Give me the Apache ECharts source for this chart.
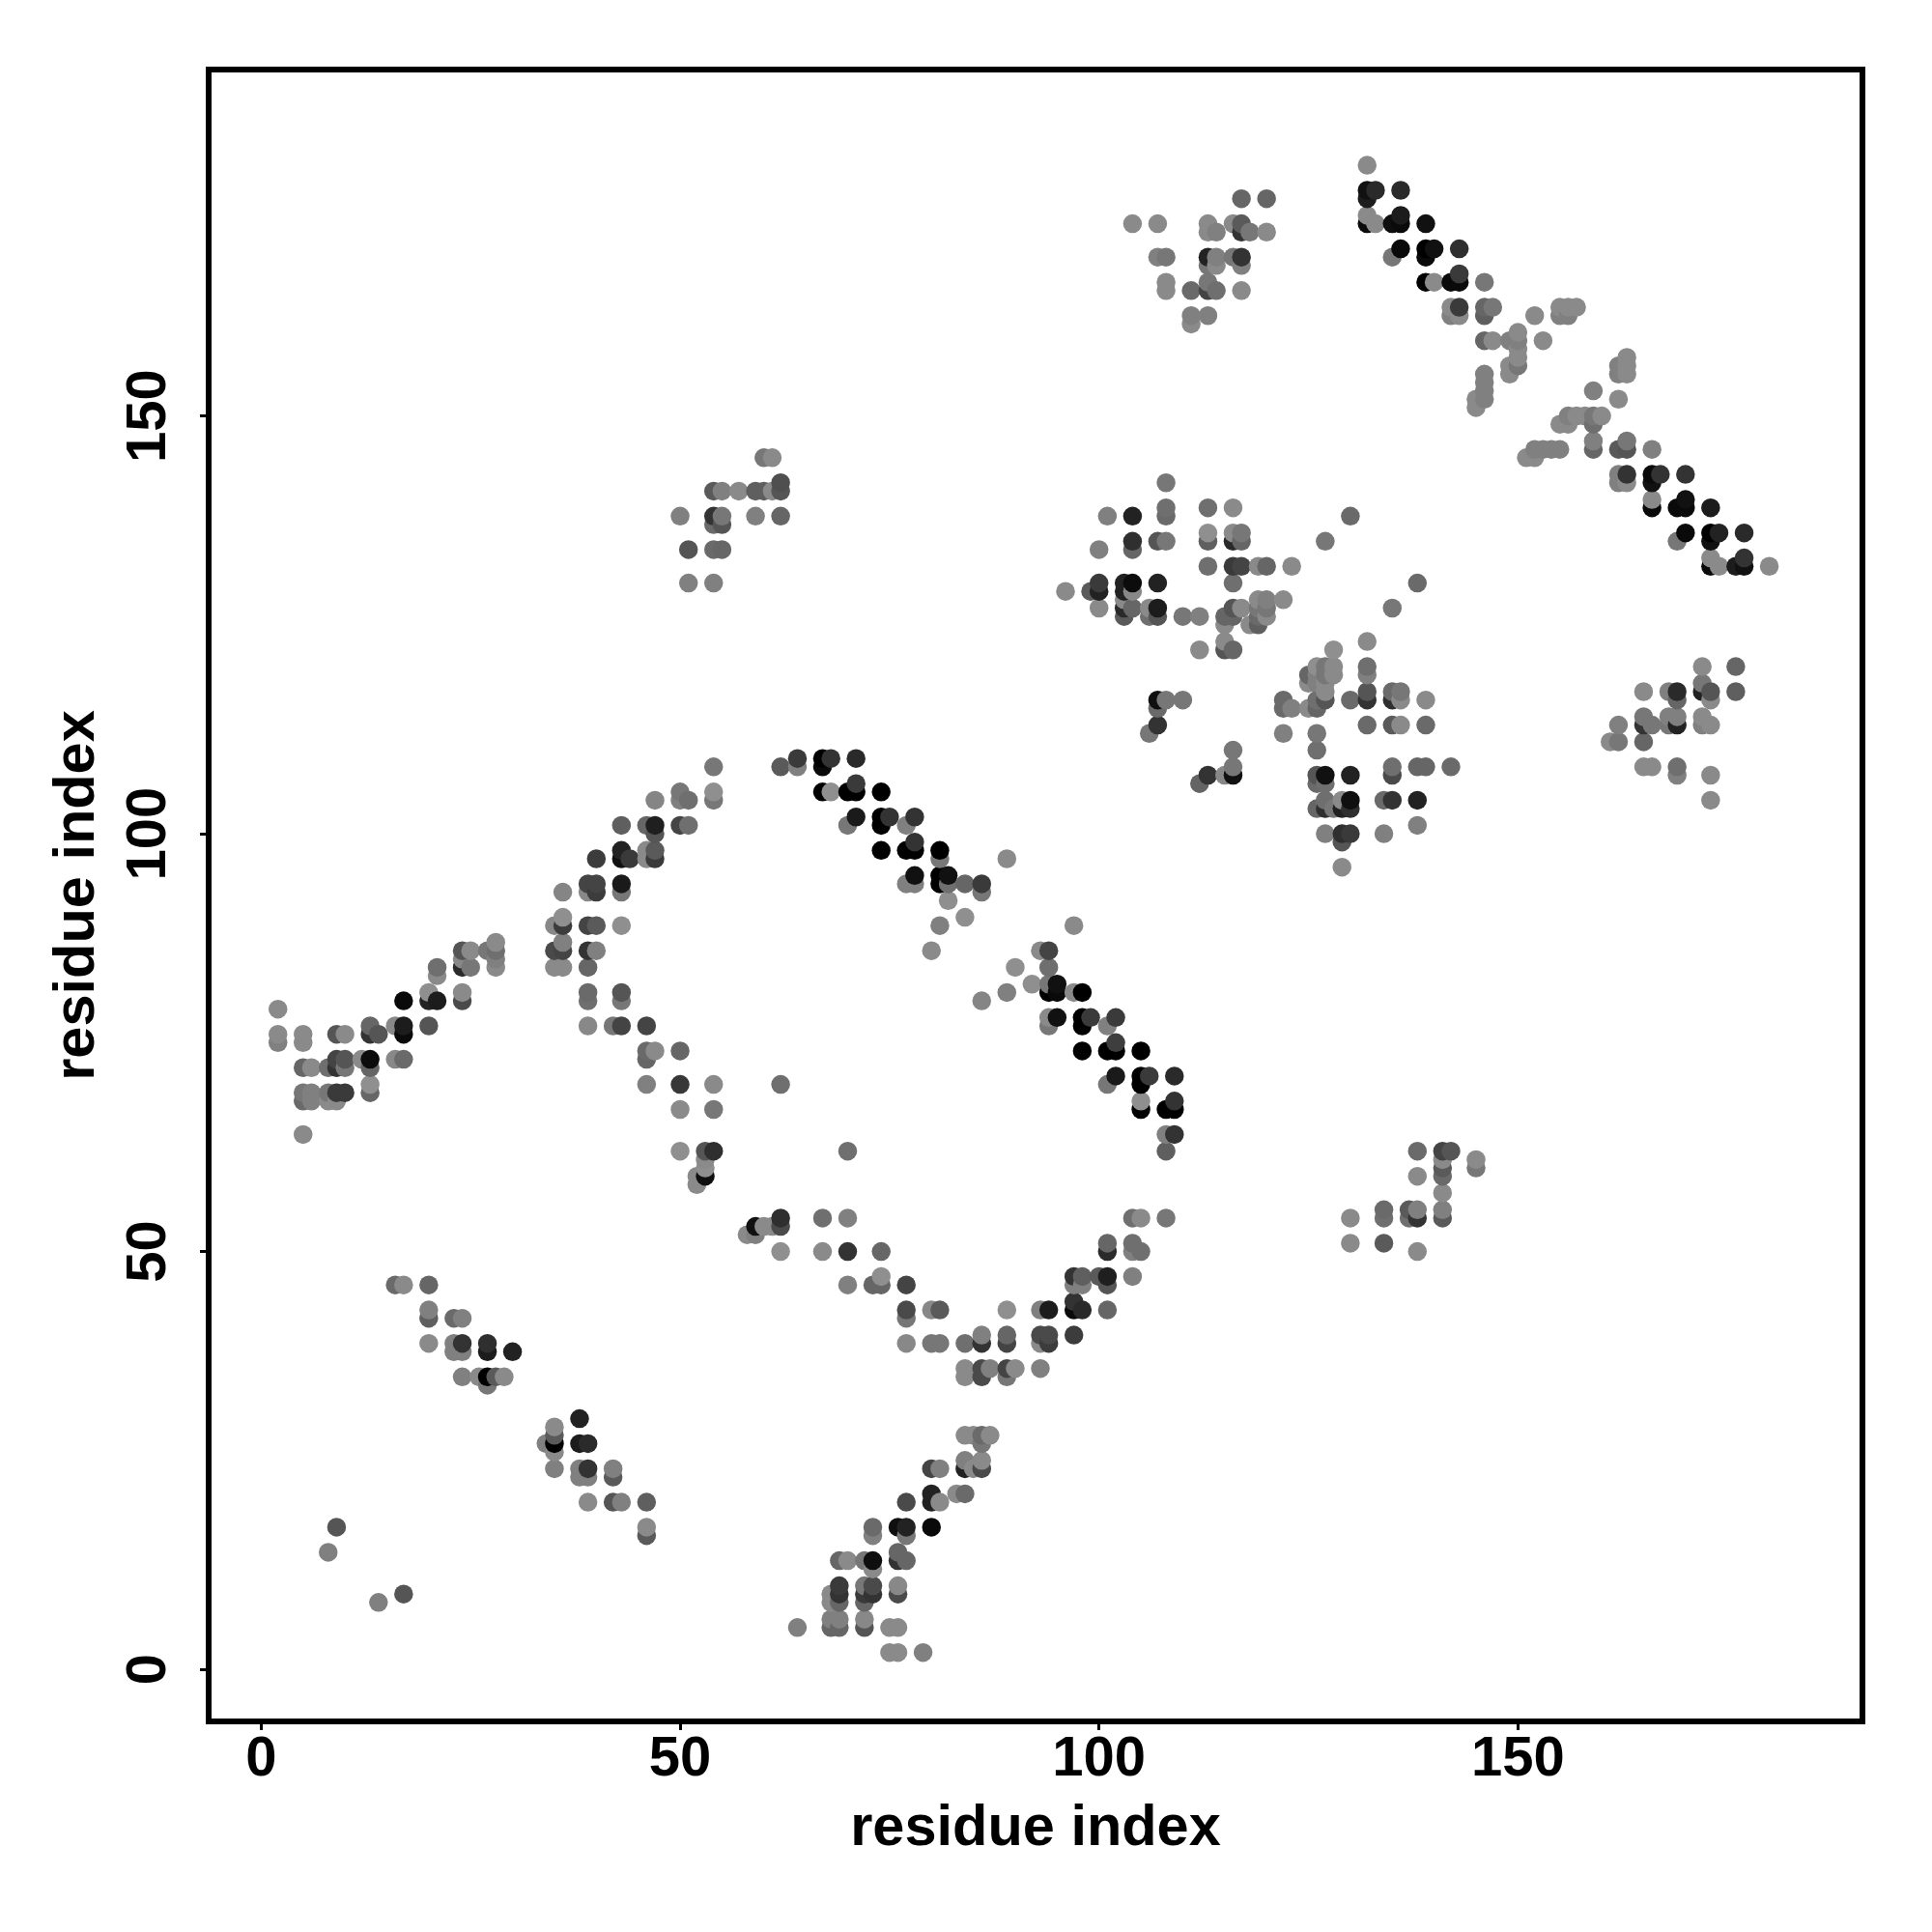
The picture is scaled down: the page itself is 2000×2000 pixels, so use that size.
<!DOCTYPE html>
<html>
<head>
<meta charset="utf-8">
<script src="https://cdn.jsdelivr.net/npm/echarts@6/dist/echarts.min.js"></script>
<style>html,body{margin:0;padding:0;background:#fff}#c{width:2000px;height:2000px}</style>
</head>
<body>
<div id="c"></div>
<script>
// Each contact is [residue x, residue y, grey level]
const ridgeLowerLeft = [[2,79,138],[2,76,138],[2,75,128],[5,76,138],[5,75,138],[5,72,102],[6,72,138],[5,69,119],[5,68,106],[6,69,128],[6,68,128],[5,64,138],[8,72,111],[9,73,68],[9,72,51],[10,73,85],[10,72,119],[8,69,119],[8,68,138],[9,68,138],[9,69,58],[10,69,58],[9,76,85],[10,76,138],[12,73,138],[13,73,12],[13,72,102],[13,70,143],[13,69,102],[13,77,102],[13,76,51],[14,76,85],[16,77,136],[17,77,28],[17,76,10],[16,73,136],[17,73,106],[17,80,10],[20,77,85],[20,81,143],[20,80,34],[21,80,28],[21,84,111],[21,83,138],[24,81,138],[24,80,74],[24,86,85],[25,86,138],[24,84,42],[25,84,119],[24,85,136],[27,86,119],[28,87,138],[28,86,111],[28,85,128],[28,84,138]];
const ridgeMidLeft = [[35,89,136],[36,90,143],[36,89,60],[35,86,74],[36,87,128],[36,86,68],[35,84,138],[36,84,138],[36,93,133],[39,94,68],[39,93,136],[40,94,68],[40,93,60],[43,94,26],[43,93,119],[39,89,68],[40,89,90],[43,89,143],[39,86,51],[40,86,128],[39,84,102],[39,81,106],[39,80,111],[43,81,85],[43,80,119],[39,77,136],[42,77,119],[43,77,68],[46,77,68],[46,74,106],[47,74,138],[46,73,102],[50,74,102],[46,70,128],[50,70,56],[50,67,138],[50,62,143],[52,59,138],[52,58,138],[53,62,85],[54,62,47],[53,61,138],[53,60,143],[53,59,15],[54,70,138],[62,70,111],[54,67,119],[54,108,119],[47,104,133],[50,105,119],[50,104,128],[51,104,111],[54,105,143],[54,104,119],[43,101,95],[46,101,102],[47,101,31],[47,100,85],[50,101,68],[51,101,111],[40,97,60],[43,98,34],[43,97,17],[44,97,58],[46,98,138],[46,97,138],[47,98,90],[47,97,58]];
const diagonalCentre = [[62,108,90],[64,109,58],[64,108,128],[67,109,0],[67,108,10],[68,109,51],[71,109,42],[67,105,0],[68,105,143],[70,105,0],[71,105,0],[71,106,58],[74,105,0],[71,102,26],[70,101,119],[74,102,0],[74,101,0],[75,102,51],[78,102,51],[77,101,128],[74,98,0],[77,98,0],[78,98,0],[78,99,51],[81,98,0],[81,97,119],[78,95,17],[77,94,128],[78,94,128],[81,95,0],[81,94,0],[82,95,17],[82,94,111],[84,94,102],[86,94,58],[86,93,119],[82,92,143],[84,90,143],[81,89,128],[80,86,138],[86,80,133],[89,97,138],[97,89,138],[93,86,138],[94,86,68],[90,84,143],[94,84,111],[92,82,143],[94,82,119],[95,82,17],[89,81,128],[94,81,0],[95,81,10],[97,81,138],[98,81,0],[94,78,138],[95,78,17],[94,77,119],[98,78,0],[98,77,0],[99,78,58],[101,77,128],[102,78,58],[98,74,0],[101,74,0],[102,74,0],[102,75,62],[105,74,0],[102,71,26],[101,70,119],[105,71,0],[105,70,0],[106,71,58],[109,71,42],[105,68,143],[105,67,0],[108,67,0],[109,67,0],[109,68,51],[108,64,128],[109,64,51],[108,62,95],[70,62,111]];
const loopLower = [[58,52,138],[59,52,128],[59,53,17],[60,53,138],[61,53,138],[62,53,74],[62,54,47],[62,50,143],[67,54,111],[70,54,128],[67,50,138],[70,50,51],[74,50,102],[70,46,128],[73,46,102],[74,47,143],[74,46,102],[77,46,68],[77,43,74],[77,42,119],[80,43,136],[81,43,90],[77,39,136],[80,39,119],[81,39,119],[84,39,111],[86,40,128],[86,39,51],[89,43,143],[89,40,102],[89,39,68],[93,43,128],[94,43,28],[97,44,51],[97,43,10],[98,43,42],[93,40,74],[94,40,74],[93,39,138],[94,39,60],[97,40,60],[84,36,138],[84,35,138],[86,36,74],[86,35,74],[87,36,128],[89,36,68],[89,35,119],[90,36,138],[93,36,128],[101,43,102],[97,47,51],[98,47,95],[97,46,128],[98,46,128],[100,47,90],[101,47,31],[101,46,85],[104,47,128],[101,51,102],[101,50,42],[104,51,111],[104,50,128],[105,50,111],[104,54,111],[105,54,138],[108,54,119]];
const armBottom = [[84,28,138],[85,28,138],[86,28,106],[87,28,138],[86,27,119],[84,25,128],[84,24,34],[85,24,138],[86,25,138],[86,24,74],[80,24,68],[81,24,128],[77,20,74],[80,21,34],[80,20,34],[81,20,138],[83,21,138],[84,21,106],[73,17,106],[73,16,128],[76,17,15],[77,17,34],[77,16,119],[80,17,10],[69,13,102],[70,13,138],[72,13,119],[73,13,15],[73,12,138],[76,14,102],[76,13,51],[77,13,102],[68,9,138],[68,8,138],[69,10,58],[69,9,51],[69,8,102],[72,10,119],[72,9,58],[72,8,102],[73,10,74],[73,9,51],[76,10,136],[76,9,74],[64,5,128],[68,6,128],[69,6,128],[68,5,102],[69,5,102],[72,6,136],[72,5,85],[75,5,138],[76,5,138],[75,2,138],[76,2,138],[79,2,128]];
const bandLowerLeft = [[16,46,106],[17,46,138],[20,46,102],[20,43,128],[20,42,95],[23,42,106],[24,42,128],[20,39,138],[23,39,128],[23,38,128],[24,39,51],[24,38,128],[27,39,47],[27,38,28],[30,38,34],[24,35,128],[26,35,138],[27,35,0],[27,34,119],[28,35,90],[29,35,138],[9,17,85],[8,14,128],[14,8,128],[17,9,85],[38,30,34],[35,29,138],[35,28,90],[34,27,128],[35,27,0],[35,26,138],[38,27,28],[39,27,42],[35,24,128],[38,24,128],[39,24,51],[38,23,128],[39,23,128],[42,24,128],[42,23,90],[39,20,138],[42,20,85],[43,20,128],[46,20,95],[46,17,138],[46,16,90]];
const patchLowerRight = [[130,54,138],[130,51,138],[134,55,106],[134,54,111],[134,51,90],[137,55,90],[137,54,111],[138,55,128],[138,54,51],[138,50,138],[138,62,106],[138,59,138],[141,62,68],[142,62,85],[141,61,138],[141,60,90],[141,59,106],[141,57,138],[141,55,128],[141,54,90],[145,61,138],[145,60,119]];
const clusterUpperMid = [[108,142,119],[101,138,128],[104,138,34],[108,139,111],[108,138,106],[113,139,111],[116,139,138],[130,138,106],[104,135,47],[104,134,102],[100,134,128],[107,135,85],[108,135,119],[113,136,143],[113,135,95],[116,136,138],[117,136,119],[116,135,42],[117,135,102],[127,135,119],[113,132,111],[116,132,58],[117,132,68],[119,132,138],[120,132,102],[123,132,138],[116,130,111],[138,130,106],[96,129,138],[99,129,90],[100,130,58],[100,129,34],[100,127,138],[103,130,34],[104,130,12],[103,129,34],[104,129,136],[103,128,138],[104,127,102],[103,127,42],[103,126,90],[107,130,34],[106,127,138],[106,126,111],[107,127,28],[107,126,85],[110,126,119],[112,126,128],[116,127,85],[115,126,102],[116,126,102],[115,125,138],[115,123,138],[115,122,85],[116,122,102],[112,122,138],[117,127,138],[118,125,138],[119,128,138],[120,128,128],[119,127,119],[120,127,119],[119,126,106],[120,126,138],[119,125,95],[122,128,138],[135,127,119]];
const sparseMid = [[107,116,15],[108,116,119],[110,116,119],[107,115,106],[107,113,51],[106,112,119],[116,110,119],[116,108,119],[112,106,100],[113,107,51],[115,107,136],[116,107,17]];
const clusterCentreRight = [[128,122,143],[132,123,138],[132,120,111],[132,119,128],[126,120,143],[127,120,119],[128,120,138],[125,119,102],[126,119,128],[127,119,119],[128,119,138],[125,118,138],[126,118,128],[127,118,138],[127,117,138],[127,116,85],[122,116,106],[122,115,106],[123,115,128],[125,115,138],[126,116,111],[126,115,102],[130,116,106],[132,117,85],[132,116,51],[135,117,106],[136,117,119],[135,116,47],[136,116,138],[139,116,138],[122,112,128],[126,112,119],[126,110,111],[132,113,106],[135,113,90],[136,113,138],[139,113,106],[135,108,111],[135,107,74],[138,108,102],[139,108,102],[142,108,106],[126,107,85],[127,107,17],[126,106,106],[127,106,111],[130,107,34],[127,104,111],[126,103,102],[127,103,47],[128,103,119],[129,104,138],[130,104,15],[129,103,34],[130,103,47],[134,104,106],[135,104,51],[138,104,34],[127,100,128],[129,100,47],[130,100,58],[129,99,85],[134,100,128],[138,101,128],[129,96,138]];
const clusterFarRight = [[172,120,138],[176,120,102],[165,117,138],[168,117,128],[169,117,42],[169,116,102],[172,118,119],[172,117,34],[173,117,85],[173,116,138],[176,117,95],[162,113,128],[165,114,119],[165,113,51],[166,113,119],[168,114,128],[168,113,119],[169,114,128],[169,113,34],[172,114,138],[172,113,128],[173,113,138],[161,111,138],[162,111,119],[165,111,102],[165,108,138],[166,108,138],[169,108,111],[169,107,128],[173,107,138],[173,104,138]];
const patchUpperLeft = [[60,145,119],[61,145,138],[54,141,90],[55,141,128],[57,141,138],[59,141,95],[60,141,95],[61,141,138],[62,142,79],[62,141,85],[50,138,128],[54,138,51],[55,138,119],[54,137,106],[55,137,85],[59,138,128],[62,138,102],[51,134,85],[54,134,106],[55,134,102],[51,130,128],[54,130,128]];
const clusterTop = [[104,173,138],[107,173,138],[107,169,128],[108,169,119],[108,166,138],[108,165,138],[111,165,106],[113,166,119],[113,165,68],[114,165,111],[111,162,128],[111,161,138],[113,162,128],[113,173,138],[113,172,138],[114,172,128],[116,173,138],[117,173,90],[117,172,51],[118,172,119],[120,172,138],[117,176,102],[120,176,102],[113,169,34],[114,169,128],[113,168,119],[114,168,138],[116,169,119],[117,169,51],[117,168,128],[117,165,138]];
const diagonalTop = [[132,180,138],[132,177,17],[133,177,42],[132,176,28],[136,177,42],[132,174,138],[132,173,10],[133,173,138],[135,173,15],[136,174,28],[136,173,10],[139,173,17],[136,170,10],[135,169,119],[139,170,0],[140,170,17],[139,169,10],[143,170,47],[139,166,0],[140,166,138],[142,166,10],[143,166,10],[143,167,58],[146,166,119],[142,163,138],[142,162,128],[143,163,58],[143,162,138],[146,163,102],[146,162,95],[147,163,119],[152,162,138],[155,163,138],[156,163,138],[157,163,138],[155,162,128],[156,162,128],[146,159,102],[147,159,138],[149,159,128],[150,160,138],[150,159,128],[153,159,138],[150,158,138],[150,157,138],[149,156,138],[150,156,119],[149,155,138],[146,155,128],[146,154,128],[146,153,128],[146,152,128],[145,152,138],[145,151,138]];
const diagonalRight = [[163,157,138],[162,156,128],[163,156,138],[162,155,128],[163,155,138],[159,153,128],[162,152,138],[156,150,128],[157,150,138],[158,150,138],[159,150,119],[160,150,138],[155,149,138],[156,149,138],[159,149,111],[152,146,128],[153,146,128],[154,146,128],[155,146,128],[151,145,138],[152,145,138],[159,147,128],[159,146,102],[162,146,90],[163,147,119],[163,146,85],[166,146,128],[162,143,128],[162,142,128],[163,143,51],[163,142,138],[166,143,10],[167,143,51],[166,142,17],[170,143,51],[166,140,138],[166,139,10],[169,139,10],[170,140,17],[170,139,10],[173,139,28],[170,136,10],[169,135,119],[173,136,0],[174,136,34],[173,135,17],[177,136,42],[173,133,138],[173,132,10],[174,132,138],[176,132,28],[177,133,51],[177,132,17],[180,132,138]];

const tickValues = [0, 50, 100, 150];
const axisTitle = 'residue index';

const contacts = [].concat(ridgeLowerLeft, ridgeMidLeft, diagonalCentre, loopLower, armBottom,
  bandLowerLeft, patchLowerRight, clusterUpperMid, sparseMid, clusterCentreRight,
  clusterFarRight, patchUpperLeft, clusterTop, diagonalTop, diagonalRight)
  .sort((a, b) => a[0] - b[0] || a[1] - b[1]);

const font = '"Liberation Sans", Arial, sans-serif';
const axisCommon = {
  type: 'value',
  name: axisTitle,
  nameLocation: 'middle',
  nameTextStyle: { fontFamily: font, fontWeight: 'bold', fontSize: 59.5, color: '#000' },
  axisLine: { show: false, onZero: false },
  splitLine: { show: false },
  axisTick: { show: true, length: 9, lineStyle: { color: '#000', width: 3 }, customValues: tickValues },
  axisLabel: { show: true, customValues: tickValues, fontFamily: font, fontWeight: 'bold', fontSize: 58, color: '#000' }
};

const chart = echarts.init(document.getElementById('c'), null, { renderer: 'canvas' });
chart.setOption({
  animation: false,
  backgroundColor: '#fff',
  grid: { left: 216, top: 72, width: 1712, height: 1710, show: true, borderColor: '#000', borderWidth: 6, backgroundColor: 'transparent' },
  xAxis: Object.assign({}, axisCommon, {
    min: -6.27, max: 191.12, nameGap: 82,
    axisLabel: Object.assign({}, axisCommon.axisLabel, { margin: 11 })
  }),
  yAxis: Object.assign({}, axisCommon, {
    min: -6.24, max: 191.45, nameGap: 105, nameRotate: 90,
    axisLabel: Object.assign({}, axisCommon.axisLabel, { rotate: 90, margin: 32 })
  }),
  series: [{
    type: 'scatter',
    symbol: 'circle',
    symbolSize: 19.5,
    silent: true,
    large: false,
    data: contacts.map(c => ({
      value: [c[0], c[1]],
      itemStyle: { color: 'rgb(' + c[2] + ',' + c[2] + ',' + c[2] + ')', opacity: 1 }
    }))
  }]
});
</script>
</body>
</html>
